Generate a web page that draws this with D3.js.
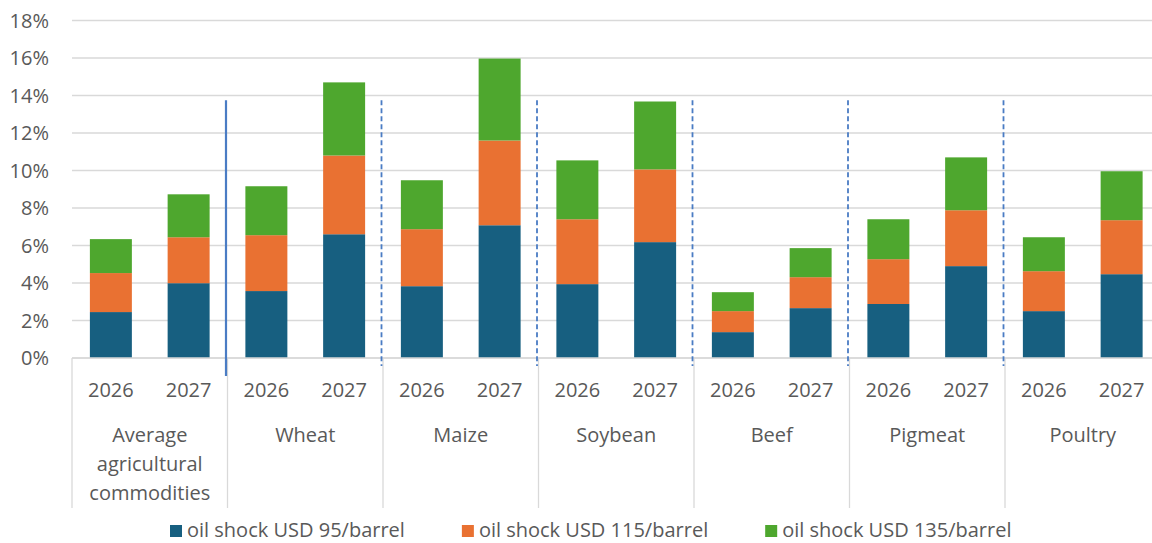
<!DOCTYPE html>
<html>
<head>
<meta charset="utf-8">
<script src="https://d3js.org/d3.v7.min.js"></script>
<style>
  body { margin: 0; background: #fff; }
  text { font-family: "Open Sans", sans-serif; fill: #595959; }
</style>
</head>
<body>
<svg width="1152" height="543"></svg>

<script>
// Commodities (one group each) and the two years inside each group
var categories = ["Average agricultural commodities", "Wheat", "Maize", "Soybean", "Beef", "Pigmeat", "Poultry"];
var years = ["2026", "2027"];

// Stacked segments, in % (order: Avg 2026, Avg 2027, Wheat 2026, Wheat 2027, ...)
var shock95  = [2.45, 3.99, 3.57, 6.60, 3.83, 7.08, 3.94, 6.18, 1.38, 2.66, 2.88, 4.90, 2.50, 4.47];
var shock115 = [2.08, 2.45, 2.98, 4.20, 3.04, 4.52, 3.46, 3.88, 1.12, 1.65, 2.39, 2.98, 2.13, 2.88];
var shock135 = [1.81, 2.29, 2.61, 3.90, 2.61, 4.37, 3.14, 3.62, 1.01, 1.55, 2.13, 2.82, 1.81, 2.61];

var seriesNames = ["oil shock USD 95/barrel", "oil shock USD 115/barrel", "oil shock USD 135/barrel"];
var seriesColors = ["#175f80", "#e97132", "#4ea72e"];

var yTicks = [0, 2, 4, 6, 8, 10, 12, 14, 16, 18];

// level of the hand-drawn separator lines, in %
var separatorTop = 13.75;

// build rows for the stack
var rows = [];
categories.forEach(function(c, ci) {
  years.forEach(function(yr, yi) {
    var k = ci * years.length + yi;
    rows.push({ cat: c, year: yr, s0: shock95[k], s1: shock115[k], s2: shock135[k] });
  });
});

var plotLeft = 72, plotRight = 1160.5, plotTop = 20.5, plotBottom = 358;

var svg = d3.select("svg");

var x0 = d3.scaleBand().domain(categories).range([plotLeft, plotRight]).padding(0);
var x1 = d3.scaleBand().domain(years).range([0, x0.bandwidth()]).paddingInner(0.46).paddingOuter(0.23);
var y = d3.scaleLinear().domain([0, 18]).range([plotBottom, plotTop]);

// gridlines
svg.append("g")
  .selectAll("line")
  .data(yTicks)
  .enter()
  .append("line")
    .attr("x1", plotLeft)
    .attr("x2", plotRight)
    .attr("y1", function(d) { return y(d); })
    .attr("y2", function(d) { return y(d); })
    .style("stroke", "#d9d9d9")
    .style("stroke-width", 1.3);

// y tick labels
svg.append("g")
  .selectAll("text")
  .data(yTicks)
  .enter()
  .append("text")
    .attr("x", 49)
    .attr("y", function(d) { return y(d); })
    .attr("dy", "0.36em")
    .attr("text-anchor", "end")
    .style("font-size", "20px")
    .text(function(d) { return d + "%"; });

// stacked bars
var stack = d3.stack().keys(["s0", "s1", "s2"]);
var layers = stack(rows);

svg.append("g")
  .selectAll("g")
  .data(layers)
  .enter()
  .append("g")
    .style("fill", function(d, i) { return seriesColors[i]; })
  .selectAll("rect")
  .data(function(d) { return d; })
  .enter()
  .append("rect")
    .attr("x", function(d) { return x0(d.data.cat) + x1(d.data.year); })
    .attr("width", x1.bandwidth())
    .attr("y", function(d) { return y(d[1]); })
    .attr("height", function(d) { return y(d[0]) - y(d[1]); });

// category axis: baseline, separators
var axisBottom = 508;
svg.append("line")
  .attr("x1", plotLeft).attr("x2", plotRight)
  .attr("y1", plotBottom).attr("y2", plotBottom)
  .style("stroke", "#d9d9d9").style("stroke-width", 1.3);

svg.append("g")
  .selectAll("line")
  .data(categories)
  .enter()
  .append("line")
    .attr("x1", function(d) { return x0(d); })
    .attr("x2", function(d) { return x0(d); })
    .attr("y1", plotBottom)
    .attr("y2", axisBottom)
    .style("stroke", "#d9d9d9")
    .style("stroke-width", 1.3);

// year labels
svg.append("g")
  .selectAll("text")
  .data(rows)
  .enter()
  .append("text")
    .attr("x", function(d) { return x0(d.cat) + x1(d.year) + x1.bandwidth() / 2; })
    .attr("y", 397)
    .attr("text-anchor", "middle")
    .style("font-size", "20px")
    .text(function(d) { return d.year; });

// category labels (wrapped)
var catLines = {
  "Average agricultural commodities": ["Average", "agricultural", "commodities"]
};
svg.append("g")
  .selectAll("text")
  .data(categories)
  .enter()
  .append("text")
    .attr("x", function(d) { return x0(d) + x0.bandwidth() / 2; })
    .attr("y", 442)
    .attr("text-anchor", "middle")
    .style("font-size", "20px")
    .each(function(d) {
      var lines = catLines[d] || [d];
      var t = d3.select(this);
      lines.forEach(function(l, i) {
        t.append("tspan")
          .attr("x", x0(d) + x0.bandwidth() / 2)
          .attr("dy", i == 0 ? 0 : 29)
          .text(l);
      });
    });

// hand-drawn blue separators between the groups (first one solid)
svg.append("g")
  .selectAll("line")
  .data(categories.slice(1))
  .enter()
  .append("line")
    .attr("x1", function(d) { return x0(d) - 1.5; })
    .attr("x2", function(d) { return x0(d) - 1.5; })
    .attr("y1", y(separatorTop))
    .attr("y2", function(d, i) { return i == 0 ? plotBottom + 18 : plotBottom + 8; })
    .style("stroke", "#4a7cc4")
    .style("stroke-width", function(d, i) { return i == 0 ? 2.2 : 1.8; })
    .style("stroke-dasharray", function(d, i) { return i == 0 ? null : "5,3"; });

// legend
var legend = svg.append("g");
var lx = 170;
seriesNames.forEach(function(name, i) {
  legend.append("rect")
    .attr("x", lx)
    .attr("y", 525)
    .attr("width", 12)
    .attr("height", 12)
    .style("fill", seriesColors[i]);
  var t = legend.append("text")
    .attr("x", lx + 17)
    .attr("y", 537)
    .style("font-size", "20px")
    .text(name);
  lx = lx + 17 + t.node().getComputedTextLength() + 57;
});
</script>
</body>
</html>
